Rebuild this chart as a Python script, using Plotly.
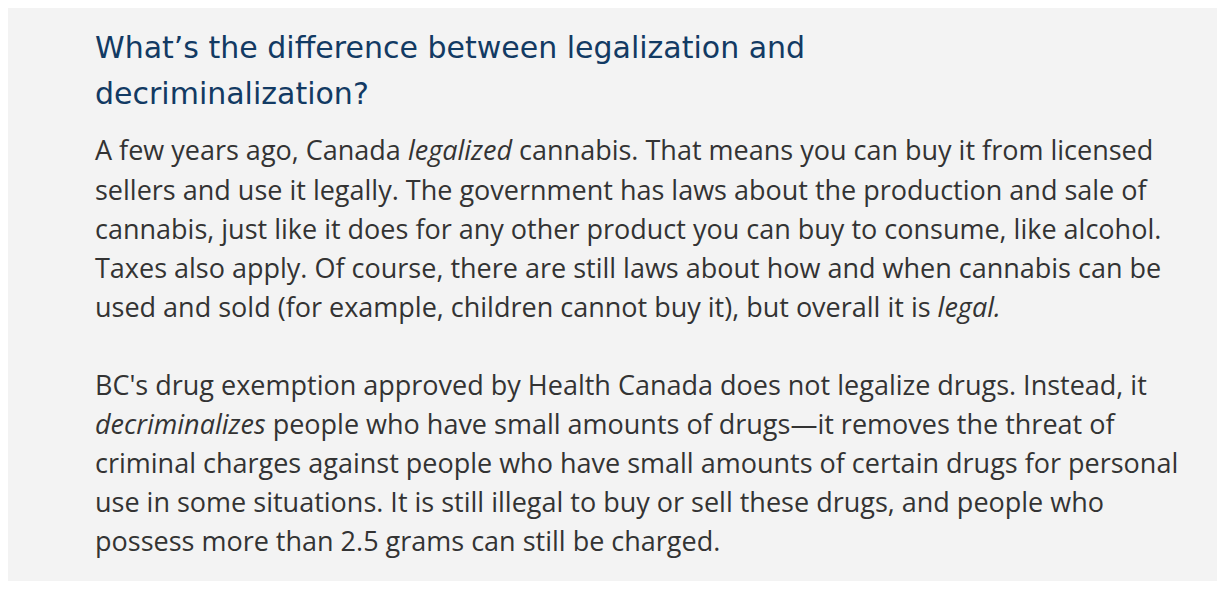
import plotly.graph_objects as go

heading_lines = ["What’s the difference between legalization and", "decriminalization?"]
heading_y = [47, 93]
body_lines = [
    "A few years ago, Canada <i>legalized</i> cannabis. That means you can buy it from licensed",
    "sellers and use it legally. The government has laws about the production and sale of",
    "cannabis, just like it does for any other product you can buy to consume, like alcohol.",
    "Taxes also apply. Of course, there are still laws about how and when cannabis can be",
    "used and sold (for example, children cannot buy it), but overall it is <i>legal.</i>",
    "BC's drug exemption approved by Health Canada does not legalize drugs. Instead, it",
    "<i>decriminalizes</i> people who have small amounts of drugs—it removes the threat of",
    "criminal charges against people who have small amounts of certain drugs for personal",
    "use in some situations. It is still illegal to buy or sell these drugs, and people who",
    "possess more than 2.5 grams can still be charged.",
]
body_y = [150, 189, 228, 267, 306, 384, 423, 462, 501, 540]

W, H = 1225, 589
OFF = 8  # page margin offset
PW, PH = W - 2 * OFF, H - 2 * OFF
fig = go.Figure()
ann = []
for t, y in zip(heading_lines, heading_y):
    ann.append(dict(text=t, x=(93 - OFF) / PW, y=1 - (y - OFF) / PH, xref="paper", yref="paper",
                    xanchor="left", yanchor="middle", showarrow=False,
                    font=dict(family="DejaVu Sans", size=30, color="#123a63")))
for t, y in zip(body_lines, body_y):
    ann.append(dict(text=t, x=(93 - OFF) / PW, y=1 - (y - OFF) / PH, xref="paper", yref="paper",
                    xanchor="left", yanchor="middle", showarrow=False,
                    font=dict(family="Open Sans", size=27, color="#333333")))
fig.update_layout(width=PW, height=PH, margin=dict(l=0, r=0, t=0, b=0),
                  paper_bgcolor="#f3f3f3", plot_bgcolor="#f3f3f3",
                  xaxis=dict(visible=False), yaxis=dict(visible=False),
                  annotations=ann)
fig.write_html("out.html", include_plotlyjs=True)
